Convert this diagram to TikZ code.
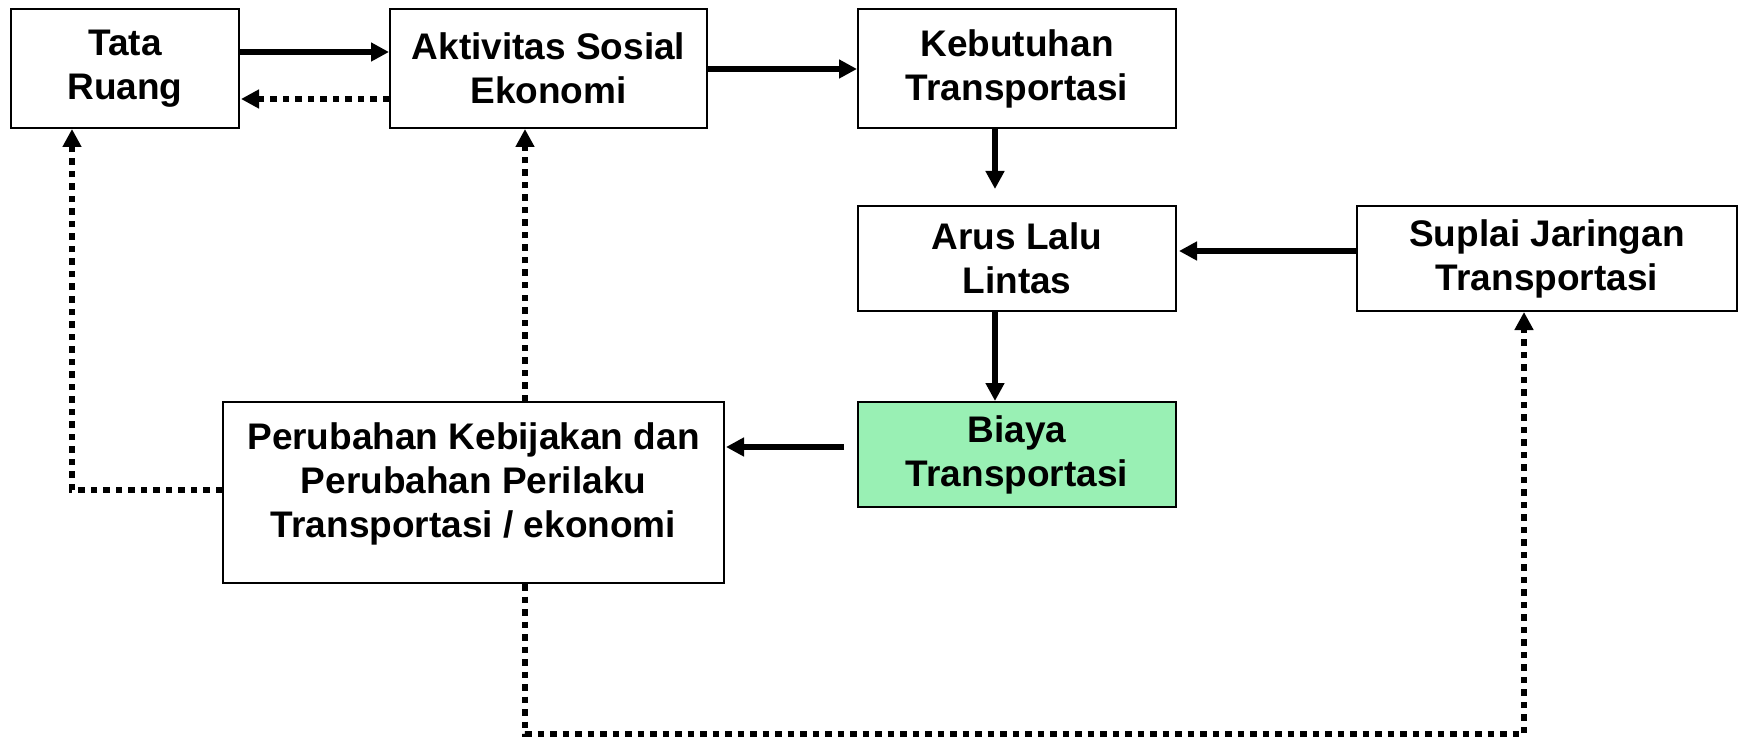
\documentclass[tikz,border=0pt]{standalone}
\usepackage{fontspec}
\setmainfont{Liberation Sans}
\usetikzlibrary{arrows.meta}
\definecolor{biayagreen}{RGB}{153,240,180}
\tikzset{
  box/.style={draw=black, line width=2pt, fill=white, inner sep=0pt, align=center,
    font=\fontsize{37}{44}\selectfont\bfseries},
  lbl/.style={inner sep=0pt, align=center, font=\fontsize{37}{44}\selectfont\bfseries},
  solidarrow/.style={line width=5.5pt, -{Triangle[length=18pt,width=18pt]}},
  dotarrow/.style={line width=6pt, dash pattern=on 6.5pt off 6pt, -{Triangle[length=18pt,width=18pt]}}
}
\begin{document}
\begin{tikzpicture}[x=1pt,y=-1pt]
\useasboundingbox (0,0) rectangle (1741,738);
\fill[white] (0,0) rectangle (1741,738);
% boxes
\node[box, minimum width=228, minimum height=119] (tr) at (125,68.5) {Tata\\Ruang};
\node[box, minimum width=317, minimum height=119] (ase) at (548.5,68.5) {Aktivitas Sosial\\Ekonomi};
\node[box, minimum width=318, minimum height=119] (kt) at (1017,68.5) {Kebutuhan\\Transportasi};
\node[box, minimum width=318, minimum height=105] (all) at (1017,258.5) {Arus Lalu\\Lintas};
\node[box, minimum width=380, minimum height=105] (sjt) at (1547,258.5) {Suplai Jaringan\\Transportasi};
\node[box, fill=biayagreen, minimum width=318, minimum height=105] (bt) at (1017,454.5) {Biaya\\Transportasi};
\node[box, minimum width=501, minimum height=181] (pk) at (473.5,492.5) {};
\node[lbl, anchor=north] (pkt) at ([yshift=-21pt]pk.north) {Perubahan Kebijakan dan\\Perubahan Perilaku\\Transportasi / ekonomi};
% coordinates for free ends / bends
\coordinate (kta) at (995,128);
\coordinate (ktb) at (995,189);
\coordinate (btl) at (844,447);
\coordinate (c1) at (72,490);
\coordinate (c2) at (525,734);
\coordinate (c3) at (1524,734);
% solid arrows
\draw[solidarrow] (tr.east |- 0,52) -- (ase.west |- 0,52);
\draw[solidarrow] (ase.east |- 0,69) -- (kt.west |- 0,69);
\draw[solidarrow] (kta) -- (ktb);
\draw[solidarrow] (sjt.west |- 0,251) -- ([xshift=2pt]all.east |- 0,251);
\draw[solidarrow] (all.south -| kta) -- (bt.north -| kta);
\draw[solidarrow] (btl) -- ([xshift=1pt]pk.east |- btl);
% dotted arrows
\draw[dotarrow] (ase.west |- 0,99) -- ([xshift=1pt]tr.east |- 0,99);
\draw[dotarrow] (pk.north -| c2) -- (ase.south -| c2);
\draw[dotarrow] (pk.west |- c1) -- (c1) -- (tr.south -| c1);
\draw[dotarrow] (pk.south -| c2) -- (c2) -- (c3) -- (sjt.south -| c3);
\end{tikzpicture}
\end{document}
